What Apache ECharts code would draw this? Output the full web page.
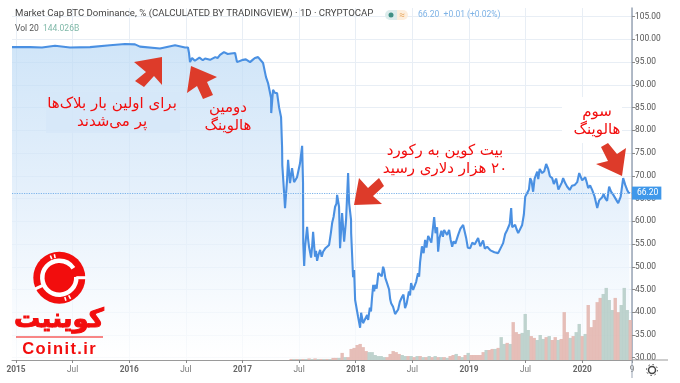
<!DOCTYPE html>
<html><head><meta charset="utf-8">
<style>html,body{margin:0;padding:0;background:#fff}#c{width:680px;height:383px}</style>
<script src="https://cdn.jsdelivr.net/npm/echarts@6/dist/echarts.min.js"></script>
</head><body><div id="c"></div>
<script>
const domYears=[2014.965,2015.124,2015.23,2015.345,2015.477,2015.654,2015.83,2015.963,2016.051,2016.095,2016.272,2016.405,2016.493,2016.519,2016.528,2016.537,2016.555,2016.67,2016.714,2016.802,2016.837,2016.935,2016.952,2017.005,2017.067,2017.138,2017.182,2017.208,2017.226,2017.253,2017.254,2017.27,2017.288,2017.306,2017.323,2017.341,2017.35,2017.352,2017.368,2017.376,2017.394,2017.403,2017.42,2017.438,2017.456,2017.482,2017.509,2017.527,2017.535,2017.537,2017.545,2017.553,2017.571,2017.588,2017.606,2017.624,2017.641,2017.659,2017.686,2017.712,2017.747,2017.765,2017.792,2017.818,2017.836,2017.853,2017.862,2017.88,2017.898,2017.915,2017.924,2017.933,2017.942,2017.959,2017.96,2017.977,2017.986,2017.995,2018.021,2018.039,2018.048,2018.065,2018.101,2018.11,2018.145,2018.171,2018.216,2018.242,2018.277,2018.313,2018.348,2018.41,2018.436,2018.489,2018.507,2018.534,2018.569,2018.613,2018.657,2018.693,2018.719,2018.728,2018.781,2018.807,2018.852,2018.905,2018.949,2019.011,2019.081,2019.161,2019.258,2019.302,2019.338,2019.373,2019.382,2019.408,2019.435,2019.47,2019.497,2019.514,2019.541,2019.567,2019.603,2019.647,2019.682,2019.735,2019.806,2019.832,2019.868,2019.956,2019.974,2020.027,2020.053,2020.088,2020.133,2020.177,2020.203,2020.238,2020.292,2020.318,2020.362,2020.397,2020.424];
const domValues=[98.3,98.3,98.2,98.6,98.2,98.3,98.7,99.0,98.9,98.4,98.0,98.7,98.2,98.2,97.0,95.0,95.9,95.8,95.5,96.6,97.2,97.0,95.0,95.5,95.0,96.1,94.8,91.7,90.4,87.1,83.8,88.9,88.2,88.2,85.1,82.9,76.3,72.3,66.2,62.9,69.1,73.5,68.4,71.7,68.6,69.7,72.8,76.6,68.4,55.2,50.2,54.4,58.8,54.4,52.0,57.7,52.2,51.3,53.7,53.3,54.1,54.8,59.6,63.2,65.8,63.2,54.1,61.8,55.5,60.3,60.3,70.6,64.0,60.3,57.4,47.7,49.3,42.7,39.0,36.6,39.9,37.6,39.4,38.3,43.4,46.0,48.2,50.0,46.4,42.0,39.6,43.4,40.9,46.4,44.9,46.7,51.1,55.9,56.4,60.9,58.7,53.3,58.1,57.0,54.4,57.0,59.2,54.1,56.3,54.4,53.0,55.2,58.1,62.9,58.7,59.2,57.4,59.2,65.4,65.1,69.5,66.5,70.9,70.6,72.6,69.5,67.3,69.5,67.6,68.6,70.6,69.7,67.3,66.9,62.9,65.3,65.1,67.6,65.1,64.0,69.5,66.9,66.2];
const wiggleYears=[2016.58,2016.62,2016.65,2016.76,2016.78,2016.87,2016.90,2017.03,2017.09,2017.11,2017.58,2017.615,2017.65,2017.67,2017.70,2017.73,2017.78,2017.805,2017.83,2018.125,2018.135,2018.155,2018.163,2018.185,2018.20,2018.23,2018.25,2018.262,2018.295,2018.305,2018.33,2018.375,2018.39,2018.422,2018.45,2018.47,2018.48,2018.55,2018.56,2018.585,2018.60,2018.625,2018.64,2018.668,2018.68,2018.705,2018.74,2018.757,2018.77,2018.825,2018.838,2018.865,2018.88,2018.925,2018.975,2018.99,2019.03,2019.05,2019.10,2019.125,2019.14,2019.19,2019.225,2019.28,2019.32,2019.36,2019.42,2019.45,2019.485,2019.53,2019.553,2019.58,2019.612,2019.625,2019.665,2019.70,2019.715,2019.75,2019.77,2019.79,2019.82,2019.85,2019.89,2019.91,2019.935,2020.0,2020.04,2020.07,2020.11,2020.15,2020.19,2020.22,2020.255,2020.275,2020.305,2020.34,2020.38,2020.41];
const wiggleValues=[95.3,96.0,95.4,96.1,95.9,96.8,96.9,95.6,95.5,95.9,56,54.3,53.5,52.5,52.2,54.0,57.3,61.0,63.9,41.0,40.2,46.0,44.6,45.2,48.6,47.9,49.4,47.5,45.0,42.8,41.2,40.6,42.3,43.9,41.9,44.6,43.7,48.6,47.8,54.5,53.0,54.2,56.8,55.3,58.0,57.4,56.3,57.9,56.6,58.1,56.0,55.6,55.1,58.4,56.4,54.2,55.3,54.9,54.5,55.8,54.0,53.6,53.2,54.1,57.2,59.4,58.3,57.0,61.5,67.0,68.8,69.4,69.3,71.5,71.0,71.5,69.9,68.2,69.4,67.0,68.5,68.4,66.9,67.8,68.0,69.0,68.6,67.9,65.4,64.6,66.0,64.5,66.5,65.8,65.5,65.4,68.0,66.3];
const volStartYear=2017.43, volStepYear=0.0265;
const volBillions=[4,4,4,4,4,4,6,4,6,4,4,4,4,4,8,8,8,27,11,11,42,46,57,61,49,34,30,30,19,15,15,11,11,23,34,30,23,19,15,15,15,11,15,15,11,11,15,11,15,11,11,11,8,15,19,23,15,11,19,27,19,19,19,19,30,38,38,42,42,46,87,61,65,61,144,106,99,103,175,114,91,84,76,95,80,87,91,76,87,76,80,182,106,84,91,106,137,91,99,209,125,152,220,236,251,274,228,190,236,182,209,274,190,152];
const volUp=[0,1,0,1,0,1,0,1,0,1,0,1,0,1,0,0,1,0,1,0,0,0,0,0,0,0,1,1,1,1,1,1,0,0,0,0,0,1,1,0,1,0,1,0,1,0,1,0,1,0,1,0,1,0,0,1,0,1,0,1,0,0,0,0,0,1,0,0,1,0,1,1,0,1,0,0,0,1,1,1,0,0,1,1,1,0,1,0,0,1,0,0,0,1,0,1,1,0,1,0,0,0,0,0,1,1,1,1,0,0,1,1,1,0];
const xTicks=[2015,2015.5,2016,2016.5,2017,2017.5,2018,2018.5,2019,2019.5,2020,2020.44];
const xTickLabels=['2015','Jul','2016','Jul','2017','Jul','2018','Jul','2019','Jul','2020','9'];
const yTicks=[30,35,40,45,50,55,60,65,70,75,80,85,90,95,100,105];
const lastPrice=66.20;
const RED='#f20d0d', ARROW='#dd3b2a', FA='"DejaVu Sans"';

const linePoints=domYears.map((y,i)=>[y,domValues[i]]).concat(wiggleYears.map((y,i)=>[y,wiggleValues[i]])).sort((a,b)=>a[0]-b[0]);

function arrow(pts){return {type:'polygon',shape:{points:pts},style:{fill:ARROW},z:20};}
function faText(x,y,t,size){return {type:'text',x:x,y:y,z:21,style:{text:'\u200f'+t,fill:RED,font:(size||15)+'px '+FA,align:'center',verticalAlign:'middle'}};}
function txt(x,y,t,fill,font,align){return {type:'text',x:x,y:y,z:21,style:{text:t,fill:fill,font:font,align:align||'left',verticalAlign:'middle'}};}
const LX=59.3, LY=277.7;
function ring(r,lw,a,b,col){return {type:'arc',x:LX,y:LY,z:22,shape:{r:r,startAngle:a*Math.PI/180,endAngle:b*Math.PI/180},style:{fill:null,stroke:col,lineWidth:lw}};}
function spoke(deg,r1,r2,lw){const a=deg*Math.PI/180;return {type:'line',z:22,shape:{x1:LX+r1*Math.cos(a),y1:LY+r1*Math.sin(a),x2:LX+r2*Math.cos(a),y2:LY+r2*Math.sin(a)},style:{stroke:'#fff',lineWidth:lw}};}

const chart=echarts.init(document.getElementById('c'));
chart.setOption({
 animation:false,
 backgroundColor:'#fff',
 grid:{left:12,right:48,top:8,bottom:23},
 xAxis:{type:'value',min:2014.965,max:2020.44,
  axisLine:{show:true,onZero:false,lineStyle:{color:'#9a9a9a',width:1}},
  axisTick:{show:true,length:3,customValues:xTicks,lineStyle:{color:'#888'}},
  splitLine:{show:true,lineStyle:{color:'#e8eef5',width:1}},
  axisLabel:{customValues:xTicks,hideOverlap:false,showMinLabel:true,showMaxLabel:true,margin:6,
   formatter:v=>{const i=xTicks.findIndex(t=>Math.abs(t-v)<1e-6);const s=xTickLabels[i]||'';return /^20/.test(s)?'{y|'+s+'}':'{m|'+s+'}';},
   rich:{y:{fontSize:8.3,fontWeight:'bold',fontFamily:'Roboto',color:'#666'},m:{fontSize:8.3,fontFamily:'Roboto',color:'#777'}}}},
 yAxis:[{type:'value',position:'right',min:29.5,max:106.9,
   axisLine:{show:true,onZero:false,lineStyle:{color:'#9aa5b5',width:1.5}},
   axisTick:{show:true,length:3,customValues:yTicks,lineStyle:{color:'#888'}},
   splitLine:{show:true,lineStyle:{color:'#e8eef5',width:1}},
   axisLabel:{customValues:yTicks,hideOverlap:false,margin:3,color:'#555',fontSize:8.4,fontFamily:'Roboto',
     formatter:v=>v.toFixed(2)}},
  {type:'value',show:false,min:0,max:1338,splitLine:{show:false}}],
 series:[
  {type:'line',name:'BTC Dominance',yAxisIndex:0,showSymbol:false,symbol:'none',silent:true,z:3,
   data:linePoints,
   lineStyle:{color:'#4a90e2',width:2.1},
   areaStyle:{color:{type:'linear',x:0,y:0,x2:0,y2:1,colorStops:[{offset:0,color:'#bcdaf5'},{offset:0.5,color:'#dcebfa'},{offset:0.85,color:'#f6fafe'},{offset:1,color:'#ffffff'}]}},
   markLine:{silent:true,symbol:'none',animation:false,
    lineStyle:{color:'#7db4ea',type:'dotted',width:1.2},
    label:{position:'end',formatter:()=>lastPrice.toFixed(2),backgroundColor:'#3f98ea',color:'#fff',fontSize:8.5,fontFamily:'Roboto',padding:[2,3,2,5],distance:0},
    data:[{yAxis:lastPrice}]}},
  {type:'bar',name:'Vol',yAxisIndex:1,barWidth:3.4,silent:true,z:4,
   data:volBillions.map((v,i)=>({value:[volStartYear+i*volStepYear,v],itemStyle:{color:volUp[i]?'#b4cbc5':'#e2b3ac',opacity:0.85}}))}
 ],
 graphic:[
  {type:'rect',z:10,shape:{x:46,y:92,width:134,height:41},style:{fill:'#d6e7f8',opacity:0.75}},
  {type:'rect',z:10,shape:{x:562,y:97,width:60,height:46},style:{fill:'#fff'}},
  txt(15,14,'Market Cap BTC Dominance, % (CALCULATED BY TRADINGVIEW) · 1D · CRYPTOCAP','#444','9.6px Roboto'),
  txt(15,29,'Vol 20','#555','8.5px Roboto'),
  txt(43,29,'144.026B','#7fb8a8','8.5px Roboto'),
  {type:'rect',z:21,shape:{x:385,y:10,width:12,height:10,r:[5,0,0,5]},style:{fill:'#dcecec'}},
  {type:'rect',z:21,shape:{x:397,y:10,width:11,height:10,r:[0,5,5,0]},style:{fill:'#fdeedd'}},
  {type:'circle',z:22,shape:{cx:391,cy:15,r:2.5},style:{fill:'#3f8f84'}},
  txt(402,15,'≈','#e8a860','10px Roboto','center'),
  txt(418,15,'66.20  +0.01 (+0.02%)','#7fb3e6','8.5px Roboto'),
  arrow([[162,57],[134,62],[146,72],[135,81],[144,87],[154,76],[162,85]]),
  arrow([[187,93],[191,66],[217,77],[207,82],[213,95],[203,99],[197,86]]),
  arrow([[354,205],[359,178],[368,188],[379,178],[384,186],[373,196],[382,204]]),
  arrow([[622,176],[596,164],[608,161],[601,147],[608,143],[617,154],[626,148]]),
  faText(112,104,'برای اولین بار بلاک‌ها'),
  faText(112,122,'پر می‌شدند'),
  faText(228,108,'دومین'),
  faText(228,126,'هالوینگ'),
  faText(445,151,'بیت کوین به رکورد'),
  faText(445,169,'۲۰ هزار دلاری رسید'),
  faText(597,112,'سوم'),
  faText(597,130,'هالوینگ'),
  {type:'circle',z:21,shape:{cx:LX,cy:LY,r:26},style:{fill:RED}},
  ring(17,4.5,-3,326,'#fff'),
  spoke(0,17,27,3),
  spoke(155,17,27,3),
  spoke(-112,20,24,1.6),spoke(-102,20,24,1.6),
  spoke(74,20,24,1.6),spoke(62,20,24,1.6),
  {type:'circle',z:23,shape:{cx:LX,cy:LY,r:13.5},style:{fill:RED}},
  {type:'text',x:59,y:320,z:21,style:{text:'کوینیت',fill:RED,stroke:RED,lineWidth:1,font:'bold 26px '+FA,align:'center',verticalAlign:'middle'}},
  {type:'line',z:21,shape:{x1:16,y1:337,x2:103,y2:337},style:{stroke:RED,lineWidth:1}},
  txt(59,349,'C\u200ao\u200ai\u200an\u200ai\u200at\u200a.\u200ai\u200ar',RED,'bold 16.5px "Liberation Sans"','center'),
  {type:'line',z:2,shape:{x1:632,y1:360,x2:668,y2:360},style:{stroke:'#9a9a9a',lineWidth:1}},
  {type:'line',z:2,shape:{x1:632,y1:360,x2:632,y2:378},style:{stroke:'#9aa5b5',lineWidth:1}},
  {type:'circle',z:21,shape:{cx:652,cy:370,r:3.5},style:{fill:null,stroke:'#444',lineWidth:1.5}},
  {type:'circle',z:21,shape:{cx:652,cy:370,r:5.5},style:{fill:null,stroke:'#444',lineWidth:1,lineDash:[1.5,2.8]}}
 ]
});
</script></body></html>
